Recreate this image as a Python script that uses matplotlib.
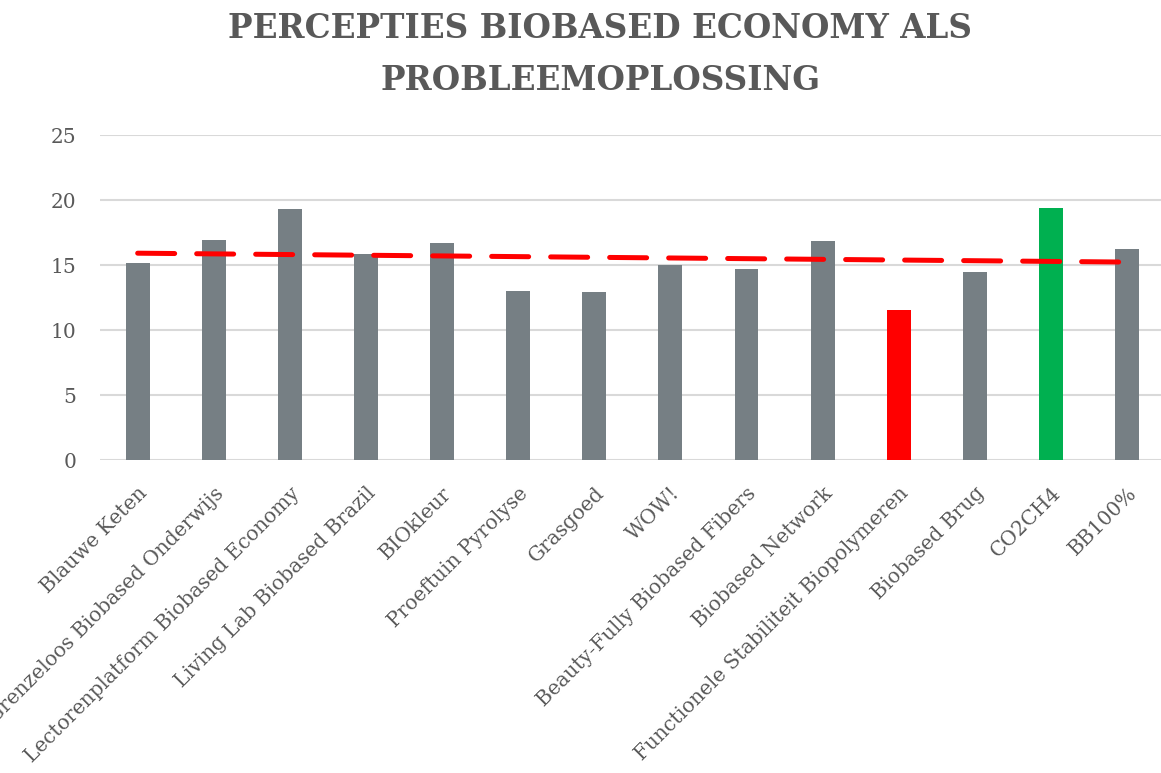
import numpy as np
import matplotlib
matplotlib.use("Agg")
import matplotlib.pyplot as plt

projecten = ["Blauwe Keten", "Grenzeloos Biobased Onderwijs",
             "Lectorenplatform Biobased Economy", "Living Lab Biobased Brazil",
             "BIOkleur", "Proeftuin Pyrolyse", "Grasgoed", "WOW!",
             "Beauty-Fully Biobased Fibers", "Biobased Network",
             "Functionele Stabiliteit Biopolymeren", "Biobased Brug",
             "CO2CH4", "BB100%"]
scores = [15.15, 16.9, 19.3, 15.85, 16.67, 13.0, 12.9, 15.0,
          14.67, 16.87, 11.54, 14.5, 19.38, 16.23]

grijs = "#767f84"
kleuren = [grijs] * len(scores)
kleuren[scores.index(min(scores))] = "#ff0000"
kleuren[scores.index(max(scores))] = "#00b050"

tekst = "#595959"
plt.rcParams["font.family"] = ["DejaVu Serif"]

fig = plt.figure(figsize=(11.61, 7.73), dpi=100)
ax = fig.add_axes([0.0858, 0.4049, 0.9177, 0.4204])

x = np.arange(len(scores))
ax.bar(x, scores, width=0.315, color=kleuren, zorder=2)

# lineaire trendlijn
a, b = np.polyfit(x, scores, 1)
ax.plot(x, a * x + b, color="#ff0000", lw=3.6, ls=(0, (7.4, 4.4)),
        solid_capstyle="round", dash_capstyle="round", zorder=3)

ax.set_xlim(-0.5, len(scores) - 0.5)
ax.set_ylim(0, 25)
ax.set_yticks(range(0, 26, 5))
ax.grid(axis="y", color="#d9d9d9", lw=1.5, zorder=0)
for s in ax.spines.values():
    s.set_visible(False)
ax.tick_params(axis="both", length=0, colors=tekst, labelsize=14.5)
ax.tick_params(axis="y", pad=17)
ax.set_xticks(x)
ax.set_xticklabels(projecten, rotation=45, ha="right",
                   rotation_mode="anchor")
ax.tick_params(axis="x", pad=17)

fig.text(0.517, 0.984, "PERCEPTIES BIOBASED ECONOMY ALS\nPROBLEEMOPLOSSING",
         ha="center", va="top", fontsize=23.5, fontweight="bold",
         color=tekst, linespacing=1.7)

fig.savefig("out.png", dpi=100)
